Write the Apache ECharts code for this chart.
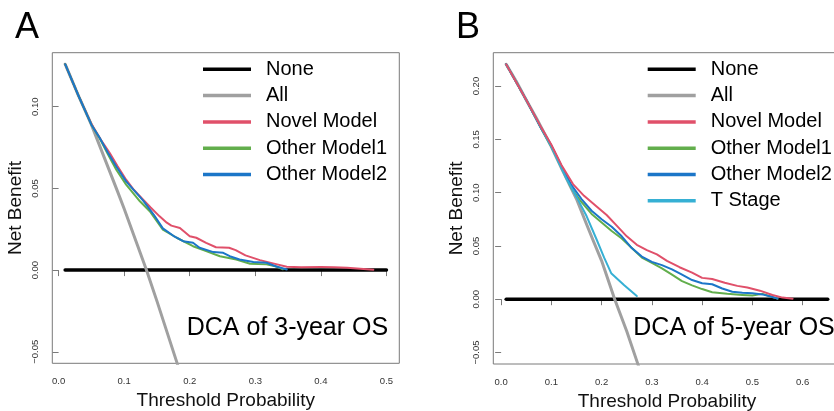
<!DOCTYPE html>
<html>
<head>
<meta charset="utf-8">
<title>Decision curve analysis</title>
<script src="https://cdn.jsdelivr.net/npm/echarts@6/dist/echarts.min.js"></script>
<style>
  html, body { margin: 0; padding: 0; background: #fff; }
  #chart { width: 834px; height: 411px; }
</style>
</head>
<body>
<div id="chart"></div>
<script>
// ---- Panel A: decision curves for 3-year overall survival ----
const ticksXA = [0, 0.1, 0.2, 0.3, 0.4, 0.5];
const ticksYA = [-0.05, 0, 0.05, 0.10];
const noneA = [[0.01, 0], [0.50, 0]];
const allA = [[0.01, 0.126], [0.03, 0.107], [0.05, 0.089], [0.07, 0.0685], [0.09, 0.048], [0.10, 0.0375],
  [0.12, 0.0155], [0.134, 0.0], [0.15, -0.019], [0.18, -0.056], [0.20, -0.082]];
const novelA = [[0.01, 0.126], [0.03, 0.107], [0.05, 0.0895], [0.065, 0.0795], [0.078, 0.0716], [0.09, 0.0635],
  [0.103, 0.0553], [0.115, 0.049], [0.129, 0.0431], [0.14, 0.0385], [0.154, 0.0329], [0.165, 0.029],
  [0.172, 0.0272], [0.185, 0.0258], [0.20, 0.0207], [0.21, 0.0198], [0.225, 0.0167], [0.24, 0.014],
  [0.26, 0.0137], [0.27, 0.0122], [0.285, 0.009], [0.307, 0.0061], [0.327, 0.0041], [0.348, 0.0021],
  [0.37, 0.0018], [0.40, 0.0019], [0.42, 0.0018], [0.44, 0.0015], [0.46, 0.0008], [0.48, 0.0002]];
const other1A = [[0.01, 0.126], [0.03, 0.107], [0.05, 0.089], [0.0626, 0.0807], [0.075, 0.071], [0.088, 0.0614],
  [0.103, 0.0523], [0.124, 0.0421], [0.139, 0.036], [0.159, 0.0248], [0.18, 0.0198], [0.205, 0.0146],
  [0.225, 0.0116], [0.246, 0.0085], [0.271, 0.0065], [0.292, 0.0039], [0.317, 0.0035], [0.332, 0.0022],
  [0.342, 0.0005]];
const other2A = [[0.01, 0.126], [0.03, 0.107], [0.05, 0.089], [0.0626, 0.081], [0.075, 0.072], [0.088, 0.0634],
  [0.103, 0.0543], [0.129, 0.0425], [0.145, 0.034], [0.159, 0.0255], [0.175, 0.021], [0.19, 0.0177],
  [0.205, 0.0167], [0.215, 0.0137], [0.236, 0.011], [0.251, 0.0106], [0.261, 0.0085], [0.276, 0.0065],
  [0.297, 0.0049], [0.317, 0.0045], [0.332, 0.0022], [0.348, 0.0004]];

// ---- Panel B: decision curves for 5-year overall survival ----
const ticksXB = [0, 0.1, 0.2, 0.3, 0.4, 0.5, 0.6];
const ticksYB = [-0.05, 0, 0.05, 0.10, 0.15, 0.20];
const noneB = [[0.01, 0], [0.65, 0]];
const allB = [[0.01, 0.2205], [0.03, 0.2045], [0.05, 0.187], [0.07, 0.170], [0.10, 0.143], [0.12, 0.123],
  [0.15, 0.094], [0.17, 0.0703], [0.185, 0.053], [0.20, 0.036], [0.226, 0.0], [0.25, -0.03],
  [0.272, -0.0607], [0.30, -0.10]];
const novelB = [[0.01, 0.2205], [0.05, 0.187], [0.08, 0.161], [0.10, 0.145], [0.12, 0.126], [0.143, 0.108],
  [0.165, 0.097], [0.19, 0.087], [0.21, 0.079], [0.23, 0.069], [0.25, 0.059], [0.27, 0.051], [0.29, 0.046],
  [0.31, 0.042], [0.33, 0.036], [0.355, 0.030], [0.38, 0.025], [0.40, 0.020], [0.42, 0.019], [0.445, 0.0155],
  [0.47, 0.0125], [0.49, 0.011], [0.515, 0.008], [0.54, 0.004], [0.56, 0.0015], [0.58, 0.0005]];
const other1B = [[0.01, 0.2205], [0.05, 0.187], [0.08, 0.160], [0.10, 0.143], [0.12, 0.124], [0.14, 0.104],
  [0.16, 0.091], [0.18, 0.080], [0.20, 0.072], [0.22, 0.064], [0.24, 0.057], [0.26, 0.048], [0.28, 0.039],
  [0.30, 0.034], [0.32, 0.029], [0.34, 0.023], [0.36, 0.017], [0.38, 0.013], [0.40, 0.0095], [0.42, 0.0065],
  [0.45, 0.005], [0.48, 0.004], [0.50, 0.0035], [0.52, 0.005], [0.54, 0.002], [0.55, 0.0005]];
const other2B = [[0.01, 0.2205], [0.05, 0.187], [0.08, 0.160], [0.10, 0.144], [0.12, 0.125], [0.14, 0.107],
  [0.16, 0.094], [0.18, 0.083], [0.20, 0.075], [0.22, 0.068], [0.24, 0.059], [0.26, 0.048], [0.28, 0.040],
  [0.30, 0.035], [0.32, 0.032], [0.34, 0.028], [0.36, 0.023], [0.38, 0.018], [0.40, 0.015], [0.42, 0.014],
  [0.44, 0.010], [0.46, 0.007], [0.48, 0.006], [0.50, 0.0055], [0.52, 0.0045], [0.54, 0.002], [0.55, 0.0005]];
const tStageB = [[0.01, 0.2205], [0.05, 0.187], [0.10, 0.143], [0.13, 0.113], [0.15, 0.096], [0.17, 0.078],
  [0.19, 0.056], [0.205, 0.039], [0.219, 0.0244], [0.245, 0.013], [0.27, 0.003]];

const legendA = ['None', 'All', 'Novel Model', 'Other Model1', 'Other Model2'];
const legendB = ['None', 'All', 'Novel Model', 'Other Model1', 'Other Model2', 'T Stage'];
const panelLabels = ['A', 'B'];
const panelTitles = ['DCA of 3-year OS', 'DCA of 5-year OS'];

const FONT = '"Liberation Sans", Arial, Helvetica, sans-serif';
const colors = {
  'None': '#000000',
  'All': '#a0a0a0',
  'Novel Model': '#e0506a',
  'Other Model1': '#62ae4c',
  'Other Model2': '#1c76c8',
  'T Stage': '#36b0d4'
};
const widths = { 'None': 3.5, 'All': 3 };

function fmtY(v) {
  const s = Math.abs(v).toFixed(2);
  return v < -1e-9 ? '\u2212' + s : s;
}
function fmtX(v) { return v.toFixed(1); }

function xAxisFor(idx, min, max, ticks) {
  return {
    type: 'value', gridIndex: idx, min: min, max: max,
    name: 'Threshold Probability', nameLocation: 'middle', nameGap: 27,
    nameTextStyle: { fontFamily: FONT, fontSize: 19, color: '#111' },
    axisLine: { show: false },
    splitLine: { show: false },
    axisTick: { show: true, customValues: ticks, length: 6, lineStyle: { color: '#7a7a7a', width: 1 } },
    axisLabel: { customValues: ticks, formatter: fmtX, margin: 13, fontFamily: FONT, fontSize: 9.5, color: '#333' }
  };
}
function yAxisFor(idx, min, max, ticks) {
  return {
    type: 'value', gridIndex: idx, min: min, max: max,
    name: 'Net Benefit', nameLocation: 'middle', nameGap: 27,
    nameTextStyle: { fontFamily: FONT, fontSize: 19, color: '#111' },
    axisLine: { show: false },
    splitLine: { show: false },
    axisTick: { show: true, customValues: ticks, length: 6, lineStyle: { color: '#7a7a7a', width: 1 } },
    axisLabel: { customValues: ticks, formatter: fmtY, rotate: 90, margin: 12, fontFamily: FONT, fontSize: 9.5, color: '#333' }
  };
}
function lineSeries(name, data, idx) {
  return {
    type: 'line', name: name, data: data,
    xAxisIndex: idx, yAxisIndex: idx,
    showSymbol: false, symbol: 'none', clip: true, silent: true,
    z: name === 'None' || name === 'All' ? 2 : 3,
    itemStyle: { color: colors[name] },
    lineStyle: { color: colors[name], width: widths[name] || 2, cap: 'round', join: 'round' }
  };
}
function legendFor(names, left) {
  return {
    data: names, orient: 'vertical', left: left, top: 59.3,
    icon: 'rect', itemWidth: 48, itemHeight: 3.5, itemGap: 6.3,
    selectedMode: false, padding: 0,
    formatter: function (n) { return '{t|' + n + '}'; },
    textStyle: {
      fontFamily: FONT, fontSize: 20, color: '#000', lineHeight: 20,
      rich: { t: { fontFamily: FONT, fontSize: 20, color: '#000', lineHeight: 20, padding: [0, 0, 0, 10] } }
    }
  };
}

const chart = echarts.init(document.getElementById('chart'), null, { renderer: 'canvas' });
chart.setOption({
  animation: false,
  backgroundColor: '#ffffff',
  grid: [
    { left: 52.3, top: 52.7, width: 347, height: 310.6, show: true, borderColor: '#7a7a7a', borderWidth: 1,
      backgroundColor: 'transparent', containLabel: false, outerBoundsMode: 'none' },
    { left: 493.3, top: 52.7, width: 347.3, height: 311.3, show: true, borderColor: '#7a7a7a', borderWidth: 1,
      backgroundColor: 'transparent', containLabel: false, outerBoundsMode: 'none' }
  ],
  xAxis: [xAxisFor(0, -0.0096, 0.5196, ticksXA), xAxisFor(1, -0.0156, 0.6756, ticksXB)],
  yAxis: [yAxisFor(0, -0.05704, 0.13304, ticksYA), yAxisFor(1, -0.06082, 0.23132, ticksYB)],
  legend: [legendFor(legendA, 203), legendFor(legendB, 647.7)],
  series: [
    lineSeries('None', noneA, 0),
    lineSeries('All', allA, 0),
    lineSeries('Novel Model', novelA, 0),
    lineSeries('Other Model1', other1A, 0),
    lineSeries('Other Model2', other2A, 0),
    lineSeries('None', noneB, 1),
    lineSeries('All', allB, 1),
    lineSeries('Other Model1', other1B, 1),
    lineSeries('Other Model2', other2B, 1),
    lineSeries('T Stage', tStageB, 1),
    lineSeries('Novel Model', novelB, 1)
  ],
  graphic: [
    { type: 'text', x: 15, y: 28.5, style: { text: panelLabels[0], fontFamily: FONT, fontSize: 36, fill: '#000', verticalAlign: 'middle' } },
    { type: 'text', x: 456, y: 28.5, style: { text: panelLabels[1], fontFamily: FONT, fontSize: 36, fill: '#000', verticalAlign: 'middle' } },
    { type: 'text', x: 186.7, y: 328.5, style: { text: panelTitles[0], fontFamily: FONT, fontSize: 25, fill: '#000', verticalAlign: 'middle' } },
    { type: 'text', x: 633.3, y: 328.5, style: { text: panelTitles[1], fontFamily: FONT, fontSize: 25, fill: '#000', verticalAlign: 'middle' } }
  ]
});
</script>
</body>
</html>
